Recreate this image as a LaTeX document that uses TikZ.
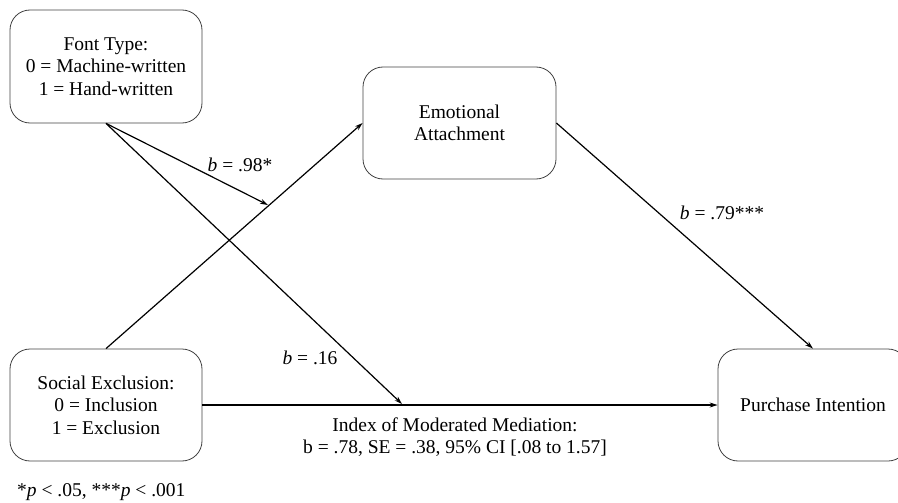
\documentclass[tikz,border=0pt]{standalone}
\usepackage{fontspec}
\setmainfont{Liberation Serif}
\usetikzlibrary{arrows.meta}
\begin{document}
\begin{tikzpicture}[x=1pt,y=-1pt,
  box/.style={draw=black!75, line width=0.8pt, rounded corners=20pt, align=center,
    inner sep=0pt, font=\fontsize{19.5}{22.5}\selectfont},
  lbl/.style={inner sep=0pt, align=center, font=\fontsize{19.5}{22.5}\selectfont},
  arr/.style={line width=1.2pt, -{Stealth[length=8pt,width=5pt]}}]
\useasboundingbox (0,0) rectangle (898,503);
\node[box, minimum width=192pt, minimum height=113pt] (ft) at (106,66.5)
  {Font Type:\\0 = Machine-written\\1 = Hand-written};
\node[box, minimum width=193pt, minimum height=112pt] (ea) at (459.5,123)
  {Emotional\\Attachment};
\node[box, minimum width=192pt, minimum height=112pt] (se) at (106,405)
  {Social Exclusion:\\0 = Inclusion\\1 = Exclusion};
\node[box, minimum width=190pt, minimum height=112pt] (pi) at (813,405)
  {Purchase Intention};
\coordinate (m1) at (268,205);
\coordinate (m2) at (402,404);
\draw[arr] (ft.south) -- (m1);
\draw[arr] (ft.south) -- (m2);
\draw[arr] (se.north) -- (ea.west);
\draw[arr] (ea.east) -- (pi.north);
\draw[arr] (se.east) -- (pi.west);
\node[lbl] (l1) at (240,165) {\textit{b} = .98*};
\node[lbl] (l2) at (310,358) {\textit{b} = .16};
\node[lbl] (l3) at (722,213) {\textit{b} = .79***};
\node[lbl] (l4) at (455,437) {Index of Moderated Mediation:\\b = .78, SE = .38, 95\% CI [.08 to 1.57]};
\node[lbl, anchor=west] (fn) at (17,492) {*\textit{p} < .05, ***\textit{p} < .001};
\end{tikzpicture}
\end{document}
